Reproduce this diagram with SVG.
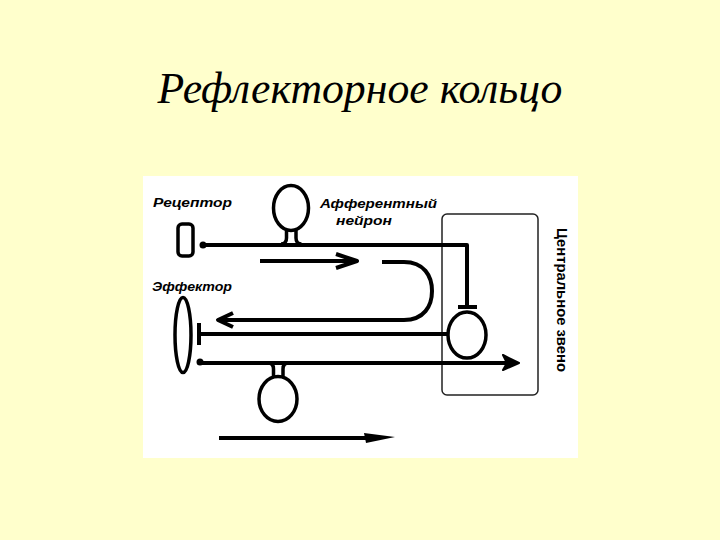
<svg xmlns="http://www.w3.org/2000/svg" width="720" height="540" viewBox="0 0 720 540">
<style>
.ln{fill:none;stroke:#000;stroke-width:4;stroke-linecap:butt;stroke-linejoin:round}
.th{fill:none;stroke:#000;stroke-width:3.5}
.lbl{font-family:"Liberation Sans",Arial,sans-serif;font-style:italic;font-weight:bold;font-size:13px;fill:#000}
</style>
<rect width="720" height="540" fill="#FFFFCC"/>
<text x="360" y="103" text-anchor="middle" font-family="'Liberation Serif','Times New Roman',serif" font-style="italic" font-size="44" fill="#000" textLength="405" lengthAdjust="spacingAndGlyphs">Рефлекторное кольцо</text>
<rect x="143" y="176" width="435" height="282" fill="#FFFFFF"/>

<g id="central-box">
<rect x="442" y="214" width="96" height="181" rx="5" fill="none" stroke="#222" stroke-width="1.5"/>
<text transform="translate(557,228) rotate(90)" font-family="'Liberation Sans',Arial,sans-serif" font-weight="bold" font-size="14" fill="#000" textLength="144" lengthAdjust="spacingAndGlyphs">Центральное звено</text>
</g>

<g id="receptor">
<rect x="178" y="224" width="15" height="32" rx="4" class="th"/>
<text x="153" y="207" class="lbl" textLength="79" lengthAdjust="spacingAndGlyphs">Рецептор</text>
</g>

<g id="effector">
<ellipse cx="183" cy="335" rx="8" ry="37.5" class="th"/>
<text x="152" y="291" class="lbl" textLength="80" lengthAdjust="spacingAndGlyphs">Эффектор</text>
</g>

<g id="afferent-neuron">
<ellipse cx="291" cy="208" rx="17.5" ry="22.5" class="th"/>
<path d="M286.5,229 V238 Q286.5,244 281,244 M296,229 V238 Q296,244 301.5,244" class="th"/>
<text x="320" y="208" class="lbl" textLength="117" lengthAdjust="spacingAndGlyphs">Афферентный</text>
<text x="336" y="225" class="lbl" textLength="56" lengthAdjust="spacingAndGlyphs">нейрон</text>
</g>

<g id="central-neuron">
<ellipse cx="467" cy="335" rx="19" ry="23" class="th"/>
</g>

<g id="efferent-neuron">
<ellipse cx="278" cy="399" rx="19" ry="22.5" class="th"/>
<path d="M273.5,377 V369 Q273.5,363 268,363 M283,377 V369 Q283,363 288.5,363" class="th"/>
</g>

<g id="connectors">
<circle cx="203" cy="245" r="3.5" fill="#000"/>
<path d="M203,245 H467 V307" class="ln"/>
<path d="M458,307 H477" class="ln"/>
<path d="M260,261 H355" class="ln"/>
<path d="M336,254 L357,261 L336,268" class="ln" stroke-width="4.5"/>
<path d="M382,262 H404 C424,262 432,276 432,291 C432,306 424,320 404,320 H220" class="ln"/>
<path d="M233,313 L218,320 L233,327" class="ln" stroke-width="4"/>
<path d="M200,334 H449" class="ln"/>
<path d="M199,323 V345" class="ln"/>
<circle cx="200" cy="362" r="3.5" fill="#000"/>
<path d="M200,363 H512" class="ln"/>
<path d="M503,355 L519,363 L503,370 L507,363 Z" fill="#000" stroke="#000" stroke-width="2" stroke-linejoin="round"/>
<path d="M219,438 H370" class="ln"/>
<path d="M364,433 L395,437 L366,443 Z" fill="#000"/>
</g>
</svg>
